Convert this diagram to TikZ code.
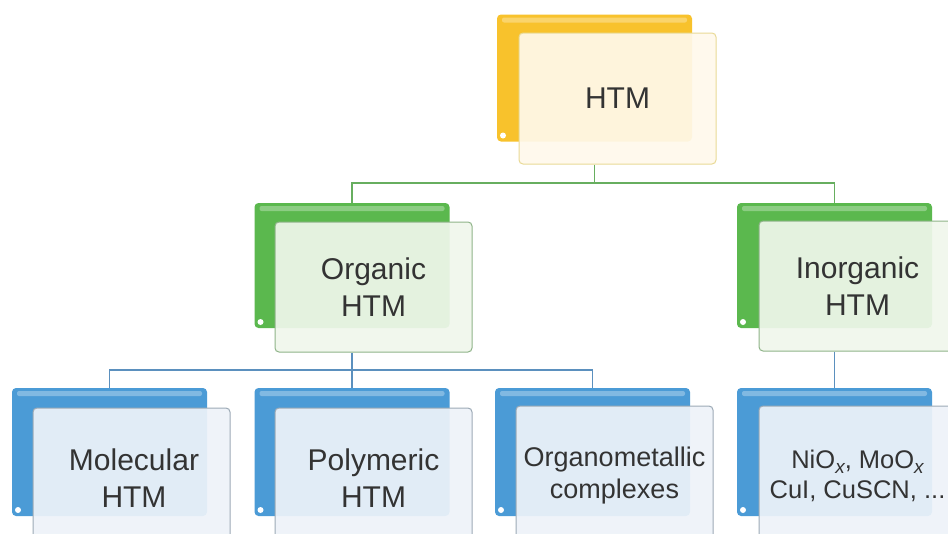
\documentclass[tikz,border=0pt]{standalone}
\usepackage{fontspec}
\setmainfont{Liberation Sans}
\definecolor{ybk}{HTML}{F8C22C}
\definecolor{gbk}{HTML}{5BB84E}
\definecolor{bbk}{HTML}{4B9BD6}
\definecolor{yfr}{HTML}{FFF9EC}
\definecolor{gfr}{HTML}{F0F7EC}
\definecolor{bfr}{HTML}{EEF3F9}
\definecolor{ybd}{HTML}{E9DA96}
\definecolor{gbd}{HTML}{8FB489}
\definecolor{bbd}{HTML}{9DAAB6}
\definecolor{gln}{HTML}{67AE5F}
\definecolor{bln}{HTML}{5B90BE}
\definecolor{txt}{HTML}{333333}
\newcommand\subx{\raisebox{-0.35ex}{\fontsize{19}{19}\selectfont\itshape x}}
\tikzset{
  backbox/.style={rounded corners=4pt, minimum width=195pt, minimum height=127pt, inner sep=0pt, fill=#1,
    path picture={
      \fill[white,opacity=0.3,rounded corners=2pt] ([xshift=5pt,yshift=-3pt]path picture bounding box.north west) rectangle ([xshift=-5pt,yshift=-8pt]path picture bounding box.north east);
      \fill[white] ([xshift=6pt,yshift=6pt]path picture bounding box.south west) circle (3pt);
    }},
  frontbox/.style 2 args={rounded corners=4pt, draw=#1, line width=1pt, fill=#2, fill opacity=0.92, text opacity=1,
    minimum width=197pt, minimum height=130pt, inner sep=0pt, align=center, text=txt,
    font=\fontsize{30}{37}\selectfont},
  gline/.style={draw=gln, line width=1.5pt},
  bline/.style={draw=bln, line width=1.5pt}
}
\begin{document}
\begin{tikzpicture}[x=1pt,y=-1pt]
\useasboundingbox (0,0) rectangle (948,533);
\clip (0,0) rectangle (948,533);
\fill[white] (0,0) rectangle (948,533);

% back boxes
\node[backbox=ybk] (htmB) at (594.5,78) {};
\node[backbox=gbk, minimum height=125pt] (orgB) at (352,265.5) {};
\node[backbox=gbk, minimum height=125pt] (inoB) at (834.5,265.5) {};
\node[backbox=bbk, minimum height=128pt] (molB) at (109.5,452) {};
\node[backbox=bbk, minimum height=128pt] (polB) at (352,452) {};
\node[backbox=bbk, minimum height=128pt] (omcB) at (592.5,452) {};
\node[backbox=bbk, minimum height=128pt] (nioB) at (834.5,452) {};

% front boxes
\node[frontbox={ybd}{yfr}, minimum height=131pt] (htm) at (617.5,98.5) {HTM};
\node[frontbox={gbd}{gfr}] (org) at (373.5,287) {Organic\\HTM};
\node[frontbox={gbd}{gfr}] (ino) at (857.5,286) {Inorganic\\HTM};
\node[frontbox={bbd}{bfr}, minimum height=140pt] (mol) at (131.5,478) {\hspace*{5pt}Molecular\\\hspace*{5pt}HTM};
\node[frontbox={bbd}{bfr}, minimum height=140pt] (pol) at (373.5,478) {Polymeric\\HTM};
\node[frontbox={bbd}{bfr}, minimum height=140pt, font=\fontsize{27}{32}\selectfont] (omc) at (614.5,476) {Organometallic\\complexes};
\node[frontbox={bbd}{bfr}, minimum height=140pt, font=\fontsize{25.5}{30}\selectfont] (nio) at (857.5,476) {NiO\subx, MoO\subx\\CuI, CuSCN, ...};

% connectors
\coordinate (bus1) at (0,183);
\coordinate (bus2) at (0,370);
\draw[gline] (htmB.south |- htm.south) -- (htmB.south |- bus1);
\draw[gline] (orgB.north) -- (orgB.north |- bus1) -- (inoB.north |- bus1) -- (inoB.north);
\draw[bline] (orgB.south |- org.south) -- (orgB.south |- bus2);
\draw[bline] (molB.north) -- (molB.north |- bus2) -- (omcB.north |- bus2) -- (omcB.north);
\draw[bline] (polB.north) -- (polB.north |- bus2);
\draw[bline] (inoB.south |- ino.south) -- (nioB.north);
\end{tikzpicture}
\end{document}
